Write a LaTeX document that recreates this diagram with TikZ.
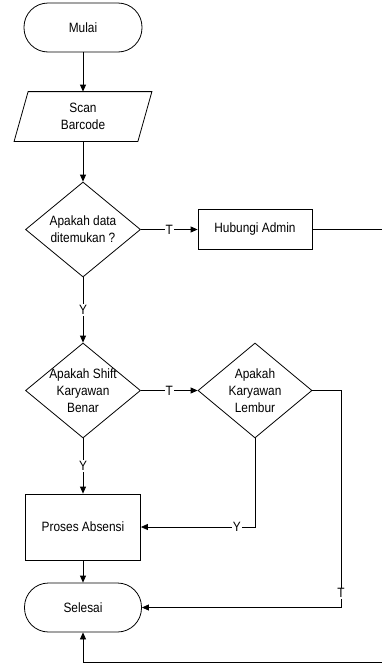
\documentclass[tikz,border=0pt]{standalone}
\usepackage{fontspec}
\setmainfont{Liberation Sans}[FakeStretch=0.88]
\usetikzlibrary{shapes.geometric,arrows.meta}
\begin{document}
\begin{tikzpicture}[x=1pt,y=-1pt,
  line width=0.8pt,
  every node/.style={font=\fontsize{13.5}{17}\selectfont},
  term/.style={draw, rectangle, rounded corners=24pt, minimum width=118pt, minimum height=49pt, inner sep=0pt},
  procbox/.style={draw, rectangle, inner sep=0pt},
  dec/.style={draw, diamond, minimum width=115pt, minimum height=95pt, inner sep=0pt},
  txt/.style={align=center, inner sep=0pt},
  arr/.style={-{Triangle[length=7pt,width=6pt]}},
  lbl/.style={fill=white, inner sep=1pt},
]
\useasboundingbox (0,0) rectangle (382,664);

\node[term] (start) at (83,27.5) {Mulai};
\node[minimum width=123pt, minimum height=49pt, inner sep=0pt, align=center] (scan) at (83,116.5) {Scan\\Barcode};
\draw ([xshift=7pt]scan.north west) -- ([xshift=7pt]scan.north east) -- ([xshift=-7pt]scan.south east) -- ([xshift=-7pt]scan.south west) -- cycle;

\node[dec] (d1) at (83,229.5) {};
\node[txt] (t1) at (d1) {Apakah data\\ditemukan ?};
\node[procbox, minimum width=114pt, minimum height=40pt] (admin) at (255,229.5) {Hubungi Admin};

\node[dec] (d2) at (83,390.5) {};
\node[txt] (t2) at (d2) {Apakah Shift\\Karyawan\\Benar};
\node[dec, minimum width=114pt] (d3) at (255,390.5) {};
\node[txt] (t3) at (d3) {Apakah\\Karyawan\\Lembur};

\node[procbox, minimum width=115pt, minimum height=66pt] (proc) at (83,527) {Proses Absensi};
\node[term, minimum width=117pt] (end) at (83,607.5) {Selesai};

\coordinate (c1) at (341,390.5);
\coordinate (c2) at (386,229.5);
\coordinate (c3) at (386,662);

\draw[arr] (start.south) -- (scan.north);
\draw[arr] (scan.south) -- (d1.north);
\draw[arr] (d1.east) -- node[lbl]{T} (admin.west);
\draw[arr] (d1.south) -- node[lbl]{Y} (d2.north);
\draw[arr] (d2.east) -- node[lbl]{T} (d3.west);
\draw[arr] (d2.south) -- node[lbl]{Y} (proc.north);
\draw[arr] (d3.south) |- node[lbl, pos=0.58]{Y} (proc.east);
\draw[arr] (d3.east) -- (c1) |- node[lbl, pos=0.467]{T} (end.east);
\draw[arr] (proc.south) -- (end.north);
\draw[arr] (admin.east) -- (c2) -- (c3) -| (end.south);
\end{tikzpicture}
\end{document}
